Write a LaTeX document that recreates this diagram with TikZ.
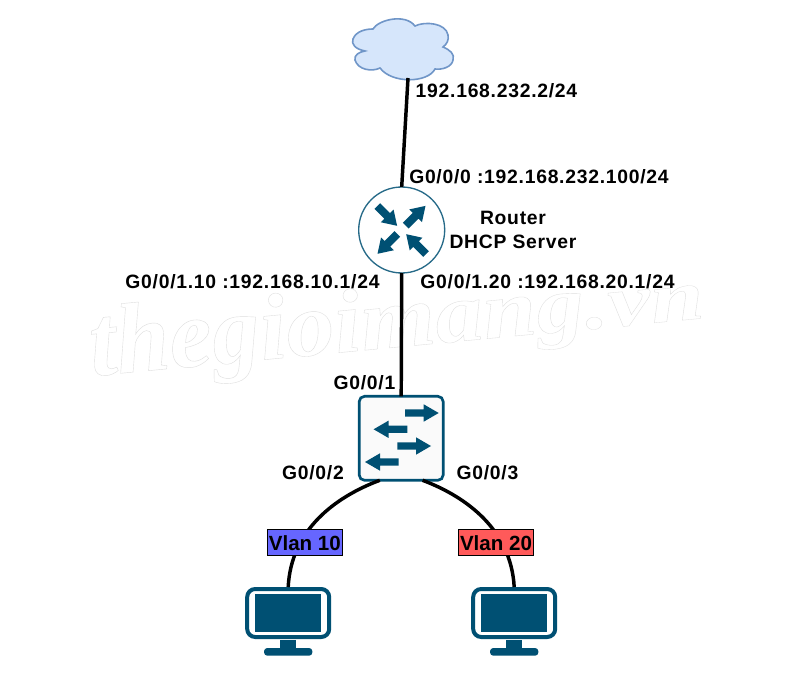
\documentclass[tikz,border=0pt]{standalone}
\usepackage{fontspec}
\usepackage{graphicx}
\setmainfont{Liberation Sans}
\newfontfamily\markfont{Liberation Serif}[BoldItalicFont={Liberation Serif Bold Italic}]
\newfontfamily\labelfont[LetterSpace=3.8]{Liberation Sans Bold}
\newfontfamily\tagfont{Liberation Sans Bold}
\definecolor{icon}{HTML}{005073}
\definecolor{cloudfill}{HTML}{D6E6FB}
\definecolor{cloudline}{HTML}{7096C8}
\definecolor{vlanblue}{HTML}{6666FF}
\definecolor{vlanred}{HTML}{FF5A5A}
% one outlined glyph of the site mark, squeezed vertically by #1
\newcommand{\mkglyph}[2]{\scalebox{1}[#1]{\special{pdf:code q 1 Tr 0.3 w 0.87 0.87 0.87 RG}#2\special{pdf:code 0 Tr Q}}}
% block arrow: tail x, tail y, heading, length, head length, head half width, shaft half width
\newcommand{\iconarrow}[7]{\fill[icon,shift={(#1,#2)},rotate=#3]
  (0,-#7) -- ({#4-#5},-#7) -- ({#4-#5},-#6) -- (#4,0) -- ({#4-#5},#6) -- ({#4-#5},#7) -- (0,#7) -- cycle;}
\tikzset{
  px/.style={x=0.75pt,y=-0.75pt},
  link/.style={draw=black,line width=2.6pt},
  netlabel/.style={font=\labelfont\fontsize{14.5}{16}\selectfont,text=black,inner sep=0pt},
  vlantag/.style={draw=black,line width=0.9pt,minimum width=56.5pt,minimum height=19.5pt,inner sep=0pt,font=\tagfont\fontsize{15.4}{17}\selectfont,text=black},
  pcbody/.style={draw=icon,line width=3pt,rounded corners=6pt,fill=white,minimum width=61.5pt,minimum height=36pt,inner sep=0pt,outer sep=1.5pt},
}
\begin{document}
\begin{tikzpicture}[px]
\useasboundingbox (0,0) rectangle (800,673);
\fill[white] (0,0) rectangle (800,673);

% outlined site mark, tapering towards the right
\node[rotate=5.4,inner sep=0pt,anchor=base west] (sitemark) at (92,376)
  {\markfont\bfseries\itshape\fontsize{72}{80}\selectfont
   \mkglyph{1.06}{t}\mkglyph{1.04}{h}\mkglyph{1.02}{e}\mkglyph{1.0}{g}\mkglyph{.98}{i}\mkglyph{.96}{o}\mkglyph{.94}{i}\mkglyph{.91}{m}\mkglyph{.88}{a}\mkglyph{.85}{n}\mkglyph{.83}{g}\mkglyph{.8}{.}\mkglyph{.77}{v}\mkglyph{.75}{n}};

% cloud
\draw[fill=cloudfill,draw=cloudline,line width=1.2pt]
  (373,29) .. controls (378,20) and (405,13) .. (415,26)
  .. controls (425,21) and (446,23) .. (448,35)
  .. controls (449,40) and (447,44) .. (443,47)
  .. controls (450,50) and (455,54) .. (453,60)
  .. controls (452,67) and (442,70) .. (435,69)
  .. controls (428,83) and (392,84) .. (380,68)
  .. controls (372,72) and (358,70) .. (355,60)
  .. controls (354,55) and (359,52) .. (365,51)
  .. controls (355,49) and (351,44) .. (353,39)
  .. controls (356,31) and (366,29) .. (373,29) -- cycle;
\coordinate (cloudport) at (408,78);

% router
\node[circle,draw=icon!85,line width=1pt,fill=white,minimum size=64.5pt,inner sep=0pt,outer sep=0pt] (router) at (401.7,230) {};
\iconarrow{377.3}{206}{-45}{28}{14}{9}{4}
\iconarrow{405.7}{225.7}{45}{28}{14}{9}{4}
\iconarrow{397.3}{234}{-135}{28}{14}{9}{4}
\iconarrow{426}{254}{135}{28}{14}{9}{4}

% switch
\node[draw=icon,line width=2pt,rounded corners=4pt,fill=black!2,minimum size=63pt,inner sep=0pt,outer sep=0pt] (switch) at (401.2,438.3) {};
\iconarrow{405}{413}{0}{33.7}{15}{8.7}{3.7}
\iconarrow{407.3}{429.3}{180}{33.7}{15}{8.7}{3.7}
\iconarrow{397.3}{446}{0}{33.7}{15}{8.7}{3.7}
\iconarrow{398.7}{462}{180}{33.7}{15}{8.7}{3.7}

% end hosts
\foreach \name/\cx in {pcleft/288.2,pcright/514.2}{
  \node[pcbody] (\name) at (\cx,613) {};
  \fill[icon] (\cx-32.8,594.3) rectangle (\cx+32.8,631.7);
  \fill[icon] (\cx-8.2,640) rectangle (\cx+8.2,649);
  \fill[icon,rounded corners=2.5pt] (\cx-24.2,648) rectangle (\cx+24.2,655.7);
}

% links
\draw[link] (cloudport) -- (router.north);
\draw[link] (router.south) -- (switch.north);
\draw[link] (switch.243) .. controls (335,497) and (291,530) .. (pcleft.north);
\draw[link] (switch.297) .. controls (467,497) and (511,530) .. (pcright.north);

% vlan tags
\node[vlantag,fill=vlanblue] (vlanten) at (304.8,542.8) {Vlan 10};
\node[vlantag,fill=vlanred] (vlantwenty) at (496,542.8) {Vlan 20};

% interface labels
\node[netlabel] (wanpeer) at (496.5,91) {192.168.232.2/24};
\node[netlabel] (wanport) at (539,177) {G0/0/0 :192.168.232.100/24};
\node[netlabel] (rname) at (513,218) {Router};
\node[netlabel] (rrole) at (513,242) {DHCP Server};
\node[netlabel] (subten) at (252.5,282) {G0/0/1.10 :192.168.10.1/24};
\node[netlabel] (subtwenty) at (547.5,282) {G0/0/1.20 :192.168.20.1/24};
\node[netlabel] (swup) at (364.5,383) {G0/0/1};
\node[netlabel] (swleft) at (313,473) {G0/0/2};
\node[netlabel] (swright) at (487.5,473) {G0/0/3};
\end{tikzpicture}
\end{document}
